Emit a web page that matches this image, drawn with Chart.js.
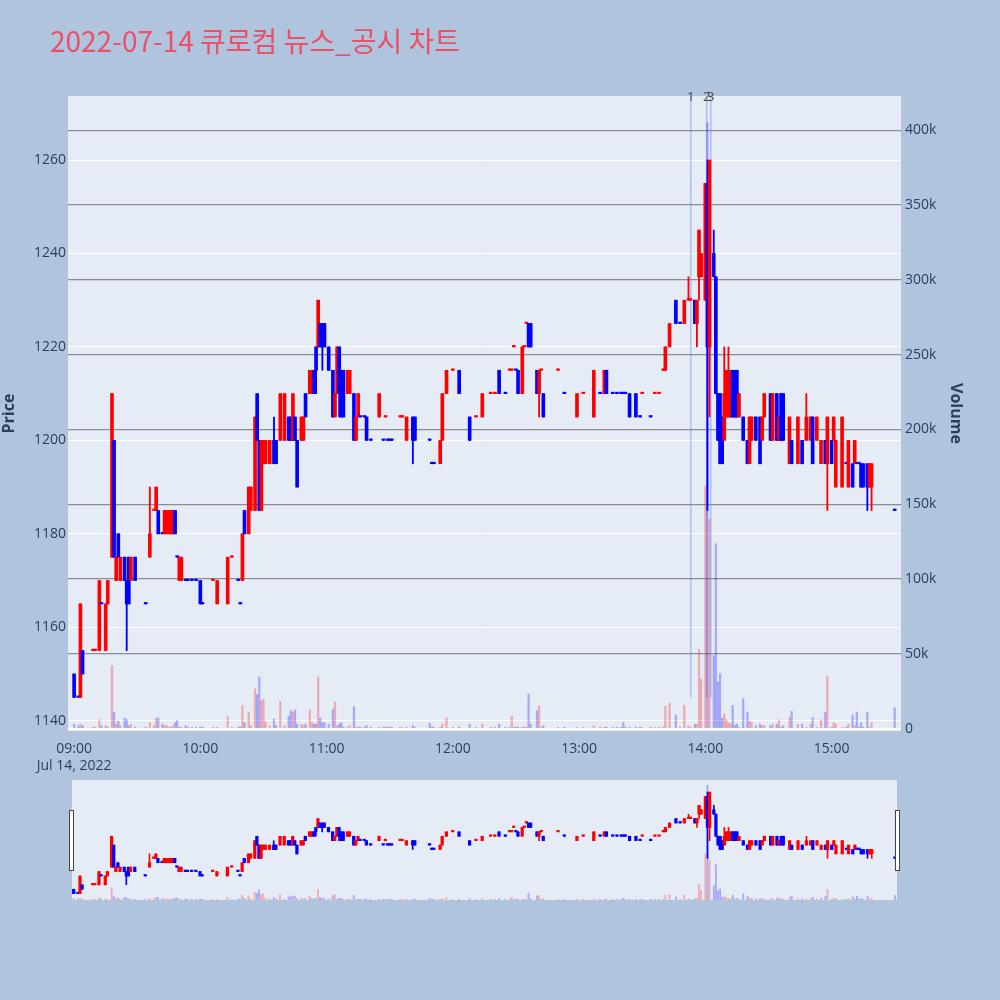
<!DOCTYPE html>
<html>
<head>
<meta charset="utf-8">
<script src="https://cdn.jsdelivr.net/npm/chart.js@4.4.0/dist/chart.umd.min.js"></script>
<style>
  html, body { margin: 0; padding: 0; background: #b0c4de; }
  #wrap { position: relative; width: 1000px; height: 1000px; overflow: hidden; }
  #title { position: absolute; left: 50px; top: 26px; line-height: 28px; font-size: 28px;
           font-family: "Noto Sans CJK KR", "Noto Sans", sans-serif; color: #ea5068; white-space: nowrap; }
  #main { position: absolute; left: 0; top: 0; }
  #slider { position: absolute; left: 72px; top: 780px; }
  .handle { position: absolute; top: 810px; width: 3px; height: 59px; background: #fff; border: 1px solid #444; }
</style>
</head>
<body>
<div id="wrap">
  <canvas id="main" width="1000" height="775"></canvas>
  <canvas id="slider" width="825" height="120"></canvas>
  <div class="handle" style="left:69px"></div>
  <div class="handle" style="left:895px"></div>
  <div id="title">2022-07-14 큐로컴 뉴스_공시 차트</div>
</div>
<script>
// 분봉 데이터 (시각, 시가, 고가, 저가, 종가, 거래량)
const times = [
  '09:00','09:02','09:03','09:04','09:09','09:10','09:12','09:13','09:15','09:16','09:18','09:19','09:20','09:21','09:22','09:24','09:25','09:26','09:27','09:29','09:34','09:36','09:38','09:39','09:40','09:42','09:43','09:44','09:45','09:46','09:47','09:48','09:49','09:50','09:51','09:53','09:54','09:56','09:58',
  '10:00','10:01','10:06','10:08','10:13','10:15','10:18','10:19','10:20','10:21','10:23','10:24','10:26','10:27','10:28','10:29','10:30','10:31','10:33','10:35','10:36','10:38','10:40','10:42','10:43','10:44','10:45','10:46','10:48','10:49','10:50','10:52','10:53','10:54','10:55','10:56','10:57','10:58','10:59',
  '11:01','11:03','11:04','11:05','11:06','11:07','11:08','11:10','11:11','11:13','11:14','11:15','11:16','11:18','11:19','11:21','11:25','11:27','11:28','11:29','11:30','11:31','11:35','11:36','11:38','11:41','11:42','11:49','11:50','11:51','11:54','11:55','11:57',
  '12:00','12:03','12:08','12:11','12:14','12:18','12:20','12:22','12:25','12:27','12:28','12:29','12:30','12:31','12:33','12:34','12:35','12:36','12:37','12:40','12:41','12:42','12:43','12:50','12:53','12:59',
  '13:02','13:07','13:10','13:12','13:13','13:16','13:18','13:20','13:21','13:22','13:24','13:27','13:29','13:30','13:34','13:36','13:38','13:40','13:41','13:43','13:46','13:48','13:50','13:52','13:53','13:55','13:56','13:57','13:58',
  '14:00','14:01','14:02','14:04','14:05','14:06','14:07','14:08','14:09','14:10','14:11','14:12','14:13','14:14','14:15','14:16','14:18','14:20','14:21','14:22','14:24','14:26','14:27','14:28','14:31','14:32','14:34','14:35','14:36','14:37','14:40','14:41','14:44','14:46','14:48','14:50','14:51','14:53','14:55','14:57','14:58',
  '15:00','15:01','15:02','15:05','15:07','15:08','15:10','15:11','15:12','15:13','15:14','15:15','15:17','15:18','15:19','15:30'
];
const opens = [
  1150,1145,1145,1155,1155,1155,1155,1165,1155,1165,1175,1200,1170,1180,1170,1175,1170,1175,1170,1175,1165,1175,1185,1185,1185,1180,1180,1180,1180,1180,1180,1185,1175,1170,1170,1170,1170,1170,1170,
  1170,1165,1170,1165,1165,1175,1170,1165,1170,1185,1180,1185,1185,1210,1200,1185,1195,1195,1195,1200,1200,1200,1200,1205,1205,1200,1205,1200,1200,1200,1210,1210,1210,1215,1220,1220,1225,1225,1225,
  1220,1215,1205,1210,1220,1215,1215,1210,1210,1210,1200,1205,1205,1205,1205,1200,1205,1200,1205,1200,1200,1200,1205,1205,1200,1205,1205,1200,1195,1195,1195,1200,1210,
  1215,1215,1205,1205,1205,1210,1210,1215,1210,1215,1215,1220,1215,1215,1210,1220,1225,1225,1225,1215,1210,1215,1210,1215,1210,1205,
  1210,1205,1210,1210,1215,1210,1210,1210,1210,1210,1210,1210,1205,1210,1205,1210,1210,1215,1215,1220,1230,1225,1225,1230,1230,1230,1225,1235,1235,
  1230,1255,1220,1240,1235,1210,1210,1205,1200,1205,1205,1205,1215,1215,1215,1205,1205,1200,1195,1200,1205,1205,1200,1205,1210,1200,1210,1200,1210,1210,1195,1200,1195,1200,1200,1200,1205,1200,1195,1200,1195,
  1200,1200,1190,1190,1195,1190,1195,1195,1195,1195,1195,1195,1195,1190,1190,1185
];
const highs = [
  1150,1145,1165,1155,1155,1155,1170,1165,1165,1170,1210,1200,1175,1180,1175,1175,1170,1175,1175,1175,1165,1190,1185,1190,1185,1180,1185,1185,1185,1185,1185,1185,1175,1175,1175,1170,1170,1170,1170,
  1170,1165,1170,1170,1175,1175,1170,1165,1180,1185,1190,1190,1205,1210,1200,1200,1200,1200,1200,1205,1200,1210,1210,1205,1205,1210,1205,1200,1205,1205,1210,1215,1215,1215,1220,1230,1225,1225,1225,
  1220,1215,1210,1220,1220,1215,1215,1215,1215,1210,1205,1210,1205,1205,1205,1200,1210,1200,1205,1200,1200,1200,1205,1205,1205,1205,1205,1200,1195,1195,1200,1210,1215,
  1215,1215,1205,1205,1210,1210,1210,1215,1210,1215,1215,1220,1215,1215,1220,1220,1225,1225,1225,1215,1215,1215,1210,1215,1210,1210,
  1210,1215,1210,1215,1215,1210,1210,1210,1210,1210,1210,1210,1205,1210,1205,1210,1210,1215,1220,1225,1230,1225,1230,1235,1230,1230,1230,1245,1240,
  1255,1260,1260,1245,1235,1210,1210,1205,1220,1215,1220,1215,1215,1215,1215,1210,1205,1200,1205,1205,1205,1205,1205,1210,1210,1210,1210,1205,1210,1210,1205,1200,1205,1200,1210,1205,1205,1205,1200,1200,1205,
  1200,1205,1200,1205,1195,1200,1195,1200,1195,1195,1195,1195,1195,1195,1195,1185
];
const lows = [
  1145,1145,1145,1150,1155,1155,1155,1165,1155,1165,1175,1175,1170,1175,1170,1170,1155,1165,1170,1170,1165,1175,1185,1185,1180,1180,1180,1180,1180,1180,1180,1180,1175,1170,1170,1170,1170,1170,1170,
  1165,1165,1170,1165,1165,1175,1170,1165,1170,1180,1180,1185,1185,1200,1185,1185,1195,1195,1195,1195,1195,1200,1200,1200,1200,1200,1200,1190,1200,1200,1205,1210,1210,1210,1210,1220,1220,1215,1220,
  1215,1205,1205,1210,1205,1205,1205,1210,1210,1200,1200,1205,1205,1205,1200,1200,1205,1200,1205,1200,1200,1200,1205,1205,1200,1195,1200,1200,1195,1195,1195,1200,1210,
  1215,1210,1200,1205,1205,1210,1210,1210,1210,1215,1215,1220,1215,1210,1210,1220,1225,1220,1220,1210,1205,1215,1205,1215,1210,1205,
  1210,1205,1210,1210,1210,1210,1210,1210,1210,1210,1205,1205,1205,1210,1205,1210,1210,1215,1215,1220,1225,1225,1225,1230,1230,1225,1220,1230,1235,
  1230,1185,1205,1235,1210,1200,1195,1195,1200,1205,1205,1205,1205,1205,1205,1205,1200,1195,1195,1200,1200,1195,1200,1205,1200,1200,1200,1200,1200,1200,1195,1195,1195,1195,1200,1200,1195,1200,1195,1195,1185,
  1195,1200,1190,1190,1195,1190,1190,1195,1195,1195,1190,1190,1185,1190,1185,1185
];
const closes = [
  1145,1145,1165,1150,1155,1155,1170,1165,1165,1170,1210,1175,1175,1175,1175,1170,1165,1165,1175,1170,1165,1180,1185,1190,1180,1180,1185,1185,1185,1185,1185,1180,1175,1175,1175,1170,1170,1170,1170,
  1165,1165,1170,1170,1175,1175,1170,1165,1180,1180,1190,1190,1205,1200,1185,1200,1200,1200,1200,1195,1195,1210,1210,1200,1200,1210,1200,1190,1205,1205,1205,1215,1215,1210,1215,1230,1220,1220,1220,
  1215,1205,1210,1220,1210,1205,1205,1215,1215,1200,1205,1210,1205,1205,1200,1200,1210,1200,1205,1200,1200,1200,1205,1205,1205,1200,1200,1200,1195,1195,1200,1210,1215,
  1215,1210,1200,1205,1210,1210,1210,1210,1210,1215,1215,1220,1215,1210,1220,1220,1225,1220,1220,1210,1215,1215,1205,1215,1210,1210,
  1210,1215,1210,1215,1210,1210,1210,1210,1210,1210,1205,1205,1205,1210,1205,1210,1210,1215,1220,1225,1225,1225,1230,1230,1230,1225,1230,1245,1240,
  1255,1220,1260,1235,1210,1200,1195,1195,1210,1215,1215,1215,1205,1205,1205,1210,1200,1195,1205,1205,1200,1195,1205,1210,1200,1210,1200,1205,1200,1200,1205,1195,1205,1195,1205,1205,1195,1205,1200,1195,1205,
  1195,1205,1200,1205,1195,1200,1190,1200,1195,1195,1190,1190,1190,1195,1195,1185
];
const volumes = [
  3000,2000,3000,2000,1000,1000,6000,2000,2000,1000,42000,11000,3000,5000,2000,7000,6000,2000,3000,1000,1000,4000,2000,7000,7000,3000,2000,2000,1000,1000,2000,4000,5500,1000,1000,2000,1000,1000,1000,
  1000,1000,1000,1000,8000,1000,1000,1000,15600,4000,11000,2000,26500,22700,34500,18700,19800,4500,2000,6500,2000,18000,2000,8500,12000,11000,12500,3000,3000,2000,3000,12500,4000,3000,3000,34500,7000,4000,4000,
  3000,13000,17600,2000,3000,4000,1000,1000,2000,14600,1000,1000,1000,1000,2000,1000,1000,1000,1000,1000,1000,1000,1000,1000,1000,2000,1000,3500,1000,1000,1000,3000,7000,
  1000,1000,3000,1000,3000,1000,1000,3000,1000,1000,8500,1000,1000,1000,1000,1000,1000,23000,3000,12000,15000,1000,2000,1000,1000,1000,
  1000,2000,1000,1000,1000,1000,1000,1000,4000,1000,1000,1000,1000,1000,1000,1000,1000,1000,15000,17000,9000,1000,15600,2000,1000,3000,3000,52800,33000,
  162000,405000,140000,48700,123500,31000,36700,7000,10000,6000,4000,3000,15500,2000,3000,1000,20000,11000,5000,4000,2000,3000,2000,2000,2000,3000,3000,6000,1000,2000,7500,11500,3000,3000,1000,3000,7500,1000,6000,10800,35000,
  1000,4000,3000,1000,1000,3000,9000,2000,11000,1000,4000,1000,11000,1000,4000,14000
];

// 축 눈금, 뉴스/공시 표시
const hourTicks = ['09:00','10:00','11:00','12:00','13:00','14:00','15:00'];
const dateLabel = 'Jul 14, 2022';
const priceTicks = [1140, 1160, 1180, 1200, 1220, 1240, 1260];
const volumeTicks = [0, 50000, 100000, 150000, 200000, 250000, 300000, 350000, 400000];
const markerTimes = ['13:53:05','14:00:40','14:02:35'];
const markerLabels = ['1','2','3'];

const UP = '#ff0000', DOWN = '#0000ff';
const UP_VOL = 'rgba(255,0,0,0.28)', DOWN_VOL = 'rgba(0,0,255,0.28)';

Chart.defaults.font.family = "'Open Sans', 'Noto Sans', sans-serif";
Chart.defaults.color = '#2a3f5f';

const toMin = t => {
  const p = t.split(':').map(Number);
  return (p[0] - 9) * 60 + p[1] + (p[2] || 0) / 60;
};

// 시가==종가인 봉은 직전 종가와 비교해서 색을 정함
const rising = [];
closes.forEach((c, i) => {
  const o = opens[i];
  let up;
  if (c !== o) up = c > o;
  else if (i > 0 && c !== closes[i - 1]) up = c > closes[i - 1];
  else up = i > 0 ? rising[i - 1] : false;
  rising.push(up);
});

function buildDatasets(bodyW, wickW, volW) {
  const xs = times.map(toMin);
  return [
    { label: 'body', yAxisID: 'y', order: 1, grouped: false, barThickness: bodyW, minBarLength: 1.5,
      data: xs.map((x, i) => ({ x: x, y: [opens[i], closes[i]] })),
      backgroundColor: rising.map(u => u ? UP : DOWN) },
    { label: 'wick', yAxisID: 'y', order: 2, grouped: false, barThickness: wickW,
      data: xs.map((x, i) => ({ x: x, y: [lows[i], highs[i]] })),
      backgroundColor: rising.map(u => u ? UP : DOWN) },
    { label: 'volume', yAxisID: 'y1', order: 3, grouped: false, barThickness: volW,
      data: xs.map((x, i) => ({ x: x, y: volumes[i] })),
      backgroundColor: rising.map(u => u ? UP_VOL : DOWN_VOL) }
  ];
}

const plotBg = {
  id: 'plotBg',
  beforeDraw(chart) {
    const { ctx, chartArea: a } = chart;
    ctx.save();
    ctx.fillStyle = '#e5ecf6';
    ctx.fillRect(a.left, a.top, a.right - a.left, a.bottom - a.top);
    ctx.restore();
  }
};

const dayLow = Math.min(...lows);
const newsMarks = {
  id: 'newsMarks',
  beforeDatasetsDraw(chart) {
    const { ctx, chartArea: a, scales } = chart;
    ctx.save();
    ctx.strokeStyle = 'rgba(110,140,240,0.45)';
    ctx.lineWidth = 1.6;
    markerTimes.forEach(t => {
      const px = scales.x.getPixelForValue(toMin(t));
      ctx.beginPath();
      ctx.moveTo(px, a.top);
      ctx.lineTo(px, scales.y.getPixelForValue(dayLow));
      ctx.stroke();
    });
    ctx.restore();
  },
  afterDraw(chart) {
    const { ctx, chartArea: a, scales } = chart;
    ctx.save();
    ctx.fillStyle = '#444';
    ctx.font = "13px 'Open Sans', sans-serif";
    ctx.textAlign = 'center';
    ctx.textBaseline = 'middle';
    markerTimes.forEach((t, i) => {
      ctx.fillText(markerLabels[i], scales.x.getPixelForValue(toMin(t)), a.top + 1);
    });
    ctx.restore();
  }
};

const priceMin = 1137.8, priceMax = 1273.7;
const volMin = -1600, volMax = 422800;

new Chart(document.getElementById('main'), {
  type: 'bar',
  data: { datasets: buildDatasets(3, 1.2, 1.6) },
  plugins: [plotBg, newsMarks],
  options: {
    responsive: false,
    animation: false,
    layout: { padding: { top: 96, right: 35, left: 0, bottom: 0 } },
    plugins: { legend: { display: false }, tooltip: { enabled: false } },
    scales: {
      x: {
        type: 'linear', min: -2.9, max: 393, offset: false,
        grid: { display: false }, border: { display: false },
        afterBuildTicks: s => { s.ticks = hourTicks.map(t => ({ value: toMin(t) })); },
        afterFit: s => { s.height = 44; },
        ticks: {
          autoSkip: false, maxRotation: 0, padding: 2, font: { size: 14 },
          callback: (v, i) => i === 0 ? [hourTicks[0], dateLabel] : hourTicks[i]
        }
      },
      y: {
        position: 'left', min: priceMin, max: priceMax,
        grid: { color: '#ffffff', lineWidth: 1, drawTicks: false }, border: { display: false },
        afterBuildTicks: s => { s.ticks = priceTicks.map(v => ({ value: v })); },
        ticks: { autoSkip: false, padding: 2, font: { size: 14 }, callback: v => String(v) },
        title: { display: true, text: 'Price', font: { size: 16, weight: 'bold' }, padding: { top: 0, bottom: 0 } },
        afterFit: s => { s.width = 68; }
      },
      y1: {
        position: 'right', min: volMin, max: volMax,
        grid: {
          drawTicks: false,
          color: c => c.tick && c.tick.value === 0 ? '#ffffff' : 'rgba(110,110,110,0.75)',
          lineWidth: c => c.tick && c.tick.value === 0 ? 2 : 1.2
        },
        border: { display: false },
        afterBuildTicks: s => { s.ticks = volumeTicks.map(v => ({ value: v })); },
        ticks: { autoSkip: false, padding: 4, font: { size: 14 },
                 callback: v => v === 0 ? '0' : (v / 1000) + 'k' },
        title: { display: true, text: 'Volume', font: { size: 16, weight: 'bold' }, padding: { top: 0, bottom: 0 } },
        afterFit: s => { s.width = 64; }
      }
    }
  }
});

// 하단 범위 슬라이더 (축 없이 같은 범위로 축소해서 그림)
new Chart(document.getElementById('slider'), {
  type: 'bar',
  data: { datasets: buildDatasets(2.6, 1, 1.2) },
  plugins: [plotBg],
  options: {
    responsive: false,
    animation: false,
    layout: { padding: 0 },
    plugins: { legend: { display: false }, tooltip: { enabled: false } },
    scales: {
      x: { type: 'linear', min: -0.8, max: 391, offset: false, display: false },
      y: { min: priceMin, max: priceMax, display: false },
      y1: { min: volMin, max: volMax, display: false }
    }
  }
});
</script>
</body>
</html>
